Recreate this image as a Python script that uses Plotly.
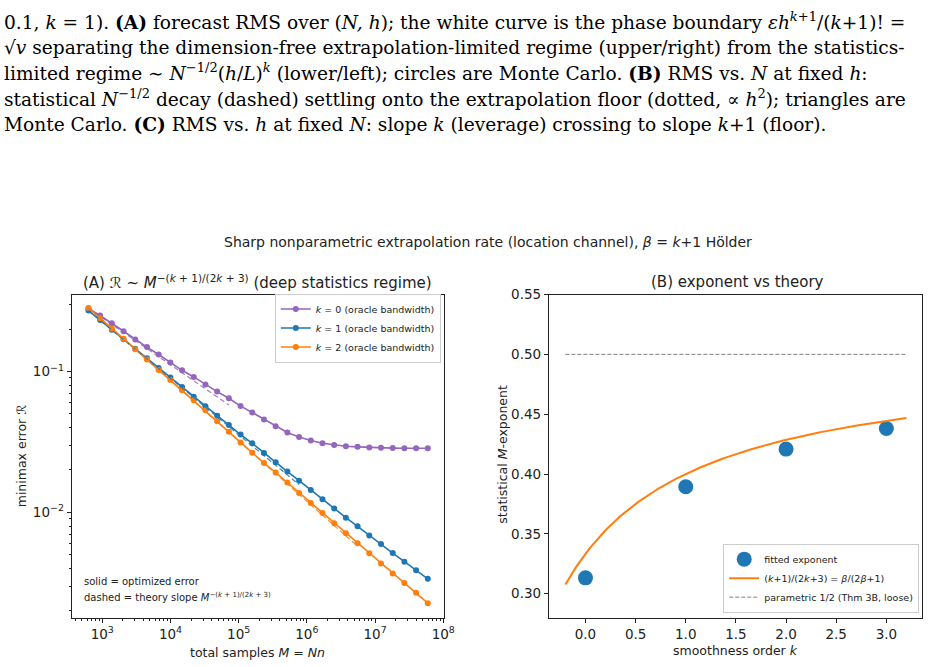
import plotly.graph_objects as go
import numpy as np

W, H = 948, 667

# ---------------- data ----------------
M_total = [627, 930, 1381, 2050, 3043, 4519, 6708, 9959, 14786, 21950,
           32584, 48374, 71812, 106614, 158270, 234963, 348818, 517848, 768800, 1141300,
           1694300, 2515300, 3734000, 5543500, 8229000, 12218000, 18138000, 26926000, 39973000, 59343000]

err_k0 = [0.281, 0.250, 0.220, 0.193, 0.169, 0.149, 0.132, 0.116, 0.102, 0.0915,
          0.0808, 0.0720, 0.0646, 0.0568, 0.0512, 0.0457, 0.0408, 0.0369, 0.0343, 0.0324,
          0.0310, 0.0301, 0.0295, 0.0292, 0.0289, 0.0288, 0.0286, 0.0285, 0.0285, 0.0285]
err_k1 = [0.2708, 0.2318, 0.1982, 0.1694, 0.1448, 0.1240, 0.1060, 0.0906, 0.0776, 0.0663,
          0.0567, 0.0485, 0.0418, 0.0357, 0.0309, 0.0264, 0.0227, 0.0195, 0.0168, 0.0144,
          0.0124, 0.01067, 0.00918, 0.00796, 0.00686, 0.00596, 0.00515, 0.00447, 0.00388, 0.00338]
err_k2 = [0.2828, 0.2390, 0.2018, 0.1705, 0.1439, 0.1216, 0.1026, 0.0869, 0.0735, 0.0626,
          0.0531, 0.0444, 0.0373, 0.0314, 0.0265, 0.0224, 0.0192, 0.0163, 0.01375, 0.01164,
          0.00990, 0.00837, 0.00712, 0.00603, 0.00513, 0.00434, 0.00369, 0.00316, 0.00269, 0.00227]
k_orders = [0, 1, 2]
theory_end_index = [12, 18, 23]

k_fit = [0, 1, 2, 3]
fitted_exponent = [0.3132, 0.3893, 0.4208, 0.4380]
parametric_exponent = 0.5
theory_k_range = [-0.2, 3.2]

colors = {0: "#9467bd", 1: "#1f77b4", 2: "#ff7f0e"}
FONT = "DejaVu Sans"

fig = go.Figure()

# ---------------- panel A ----------------
for k, err in zip(k_orders, [err_k0, err_k1, err_k2]):
    fig.add_trace(go.Scatter(
        x=M_total, y=err, mode="lines+markers",
        line=dict(color=colors[k], width=1.6),
        marker=dict(color=colors[k], size=6),
        name=f"<i>k</i> = {k} (oracle bandwidth)",
        xaxis="x", yaxis="y", legend="legend"))
for k, err, ie in zip(k_orders, [err_k0, err_k1, err_k2], theory_end_index):
    slope = (k + 1) / (2 * k + 3)
    xs = np.array([M_total[0], M_total[ie]], dtype=float)
    ys = err[0] * (xs / M_total[0]) ** (-slope)
    fig.add_trace(go.Scatter(
        x=xs, y=ys, mode="lines",
        line=dict(color=colors[k], width=1.2, dash="5px,3px"),
        opacity=0.85, showlegend=False, hoverinfo="skip",
        xaxis="x", yaxis="y"))

# ---------------- panel B ----------------
fig.add_trace(go.Scatter(
    x=k_fit, y=fitted_exponent, mode="markers",
    marker=dict(color="#1f77b4", size=15),
    name="fitted exponent", xaxis="x2", yaxis="y2", legend="legend2"))
kk = np.linspace(theory_k_range[0], theory_k_range[1], 200)
fig.add_trace(go.Scatter(
    x=kk, y=(kk + 1) / (2 * kk + 3), mode="lines",
    line=dict(color="#ff7f0e", width=2),
    name="(<i>k</i>+1)/(2<i>k</i>+3) = <i>β</i>/(2<i>β</i>+1)",
    xaxis="x2", yaxis="y2", legend="legend2"))
fig.add_trace(go.Scatter(
    x=theory_k_range, y=[parametric_exponent] * 2, mode="lines",
    line=dict(color="#808080", width=1, dash="4px,2px"),
    name="parametric 1/2 (Thm 3B, loose)",
    xaxis="x2", yaxis="y2", legend="legend2"))

# ---------------- layout ----------------
def px_x(p):
    return p / W

def px_y(p):
    return 1 - p / H

top_px, bot_px = 290.0, 617.0
ydom = [px_y(bot_px), px_y(top_px)]

minor_vals = []
for e in range(2, 9):
    for m in range(2, 10):
        minor_vals.append(m * 10 ** e)
minor_y = []
for e in range(-3, 0):
    for m in range(2, 10):
        minor_y.append(m * 10.0 ** e)

axis_common = dict(showline=True, linecolor="#222", linewidth=1, mirror=True,
                   ticks="outside", ticklen=4, tickwidth=1, tickcolor="#222",
                   showgrid=False, zeroline=False,
                   tickfont=dict(family=FONT, size=13.5, color="#222"))

fig.update_layout(
    width=W, height=H, margin=dict(l=0, r=0, t=0, b=0),
    paper_bgcolor="white", plot_bgcolor="white",
    font=dict(family=FONT, color="#222"),
    xaxis=dict(domain=[px_x(72.5), px_x(449.5)], type="log", range=[2.551, 8.015],
               tickvals=[1e3, 1e4, 1e5, 1e6, 1e7, 1e8],
               ticktext=["10<sup>3</sup>", "10<sup>4</sup>", "10<sup>5</sup>", "10<sup>6</sup>", "10<sup>7</sup>", "10<sup>8</sup>"],
               minor=dict(tickvals=minor_vals, ticks="outside", ticklen=2, tickcolor="#222"),
               anchor="y", **axis_common),
    yaxis=dict(domain=ydom, type="log", range=[-2.7465, -0.4537],
               tickvals=[1e-2, 1e-1],
               ticktext=["10<sup>−2</sup>", "10<sup>−1</sup>"],
               minor=dict(tickvals=minor_y, ticks="outside", ticklen=2, tickcolor="#222"),
               anchor="x", **axis_common),
    xaxis2=dict(domain=[px_x(555.3), px_x(933.3)], range=[-0.365, 3.36],
                tickvals=[0, 0.5, 1, 1.5, 2, 2.5, 3],
                ticktext=["0.0", "0.5", "1.0", "1.5", "2.0", "2.5", "3.0"],
                anchor="y2", **axis_common),
    yaxis2=dict(domain=ydom, range=[0.28, 0.55],
                tickvals=[0.30, 0.35, 0.40, 0.45, 0.50, 0.55],
                ticktext=["0.30", "0.35", "0.40", "0.45", "0.50", "0.55"],
                anchor="x2", **axis_common),
    legend=dict(x=px_x(446), y=px_y(289), xanchor="right", yanchor="top",
                bgcolor="rgba(255,255,255,0.85)", bordercolor="#ccc", borderwidth=1,
                font=dict(family=FONT, size=9.5, color="#222"),
                tracegroupgap=0, itemwidth=30),
    legend2=dict(x=px_x(930), y=px_y(612), xanchor="right", yanchor="bottom",
                 bgcolor="rgba(255,255,255,0.85)", bordercolor="#ccc", borderwidth=1,
                 font=dict(family=FONT, size=9.5, color="#222"),
                 tracegroupgap=0, itemwidth=30),
)

ann = []
def text(x, y, s, size=12, xanchor="center", yanchor="middle", family=FONT, angle=0, align="center"):
    ann.append(dict(x=px_x(x), y=px_y(y), xref="paper", yref="paper", text=s,
                    showarrow=False, xanchor=xanchor, yanchor=yanchor, textangle=angle, align=align,
                    font=dict(family=family, size=size, color="#222" if family == FONT else "black")))

# caption text at top (5 lines)
cap = [
    "0.1, <i>k</i> = 1). <b>(A)</b> forecast RMS over (<i>N, h</i>); the white curve is the phase boundary <i>εh</i><sup><i>k</i>+1</sup>/(<i>k</i>+1)! =",
    "√<i>v</i> separating the dimension-free extrapolation-limited regime (upper/right) from the statistics-",
    "limited regime ∼ <i>N</i><sup>−1/2</sup>(<i>h</i>/<i>L</i>)<sup><i>k</i></sup> (lower/left); circles are Monte Carlo. <b>(B)</b> RMS vs. <i>N</i> at fixed <i>h</i>:",
    "statistical <i>N</i><sup>−1/2</sup> decay (dashed) settling onto the extrapolation floor (dotted, ∝ <i>h</i><sup>2</sup>); triangles are",
    "Monte Carlo. <b>(C)</b> RMS vs. <i>h</i> at fixed <i>N</i>: slope <i>k</i> (leverage) crossing to slope <i>k</i>+1 (floor).",
]
cap_bottom = [27, 53, 79, 105, 131]
for s, yb in zip(cap, cap_bottom):
    text(2, yb, s, size=18.6, xanchor="left", yanchor="bottom", family="DejaVu Serif", align="left")

# titles
text(494, 237, "Sharp nonparametric extrapolation rate (location channel), <i>β</i> = <i>k</i>+1 Hölder", size=14)
text(261, 277, "(A) ℛ ~ <i>M</i><sup>−(<i>k</i> + 1)/(2<i>k</i> + 3)</sup> (deep statistics regime)", size=15)
text(746, 277, "(B) exponent vs theory", size=15)
# axis labels
text(261, 652, "total samples <i>M</i> = <i>Nn</i>", size=12.5)
text(22, 454, "minimax error ℛ", size=12.5, angle=-90)
text(744, 650, "smoothness order <i>k</i>", size=12.5)
text(508, 452, "statistical <i>M</i>-exponent", size=12.5, angle=-90)
# note in panel A
text(83, 580, "solid = optimized error", size=10, xanchor="left")
text(83, 596, "dashed = theory slope <i>M</i><sup>−(<i>k</i> + 1)/(2<i>k</i> + 3)</sup>", size=10, xanchor="left")

fig.update_layout(annotations=ann)
fig.write_html("out.html")
